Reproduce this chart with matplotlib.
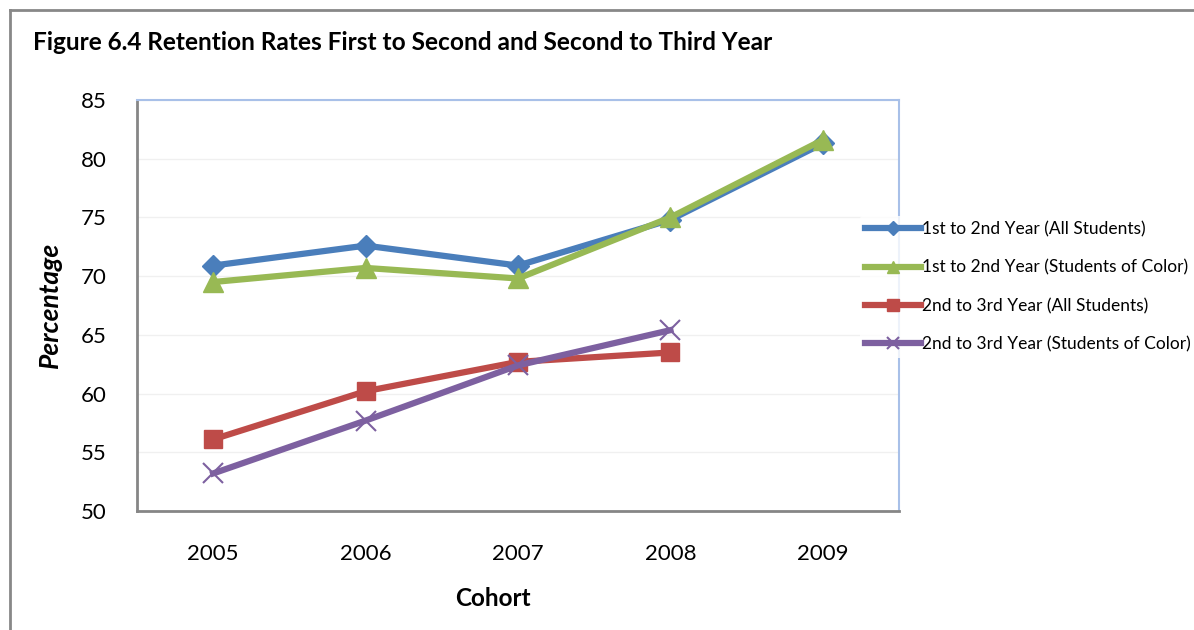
import matplotlib
matplotlib.use("Agg")
import matplotlib.pyplot as plt
from matplotlib.lines import Line2D

plt.rcParams['font.family'] = ['Lato', 'DejaVu Sans']

cohorts = ['2005', '2006', '2007', '2008', '2009']
first_all = [70.9, 72.6, 70.9, 74.8, 81.3]
first_color = [69.5, 70.7, 69.8, 75.0, 81.6]
second_all = [56.1, 60.2, 62.7, 63.5]
second_color = [53.2, 57.7, 62.4, 65.4]

labels = ['1st to 2nd Year (All Students)',
          '1st to 2nd Year (Students of Color)',
          '2nd to 3rd Year (All Students)',
          '2nd to 3rd Year (Students of Color)']
colors = ['#4A7EBB', '#98B954', '#BE4B48', '#7D60A0']

fig = plt.figure(figsize=(11.94, 6.30), dpi=100)
ax = fig.add_axes([137 / 1194, 1 - 511 / 630, (899 - 137) / 1194, (511 - 100) / 630])

x = list(range(len(cohorts)))
ax.plot(x, first_all, color=colors[0], lw=4.5, marker='D', ms=11, label=labels[0], zorder=3)
ax.plot(x, first_color, color=colors[1], lw=4.5, marker='^', ms=14, label=labels[1], zorder=4)
ax.plot(x[:4], second_all, color=colors[2], lw=4.5, marker='s', ms=13, label=labels[2], zorder=3)
ax.plot(x[:4], second_color, color=colors[3], lw=4.5, marker='x', ms=14, mew=1.5,
        label=labels[3], zorder=4)

ax.set_xlim(-0.5, 4.5)
ax.set_ylim(50, 85)
ax.set_yticks(range(50, 90, 5))
ax.set_xticks(x)
ax.set_xticklabels(cohorts)
ax.tick_params(length=0, labelsize=16, colors='black')
ax.tick_params(axis='y', pad=22)
ax.tick_params(axis='x', pad=24)
ax.grid(axis='y', color='#F0F0F0', lw=1)
ax.set_axisbelow(True)

for side in ['left', 'bottom']:
    ax.spines[side].set_color('#868686')
    ax.spines[side].set_linewidth(2)
for side in ['top', 'right']:
    ax.spines[side].set_color('#A8C0E8')
    ax.spines[side].set_linewidth(1.5)

fig.text(493 / 1194, 1 - 599 / 630, 'Cohort', fontsize=17.5, fontweight='bold',
         ha='center', va='center')
fig.text(50 / 1194, 1 - 305 / 630, 'Percentage', fontsize=19, fontweight='bold',
         fontstyle='italic', rotation=90, ha='center', va='center')

handles = [
    Line2D([], [], color=colors[0], lw=4.5, marker='D', ms=7),
    Line2D([], [], color=colors[1], lw=4.5, marker='^', ms=8),
    Line2D([], [], color=colors[2], lw=4.5, marker='s', ms=9),
    Line2D([], [], color=colors[3], lw=4.5, marker='x', ms=8, mew=1.5),
]
leg = fig.legend(handles, labels, loc='upper left', bbox_to_anchor=(860 / 1194, 1 - 216 / 630),
                 frameon=True, fontsize=12.5, handlelength=3.2, handletextpad=0.1,
                 labelspacing=1.28, borderpad=0.3, borderaxespad=0)
leg.get_frame().set_edgecolor('none')
leg.get_frame().set_facecolor('white')
leg.set_zorder(10)

fig.text(33 / 1194, 1 - 43 / 630, 'Figure 6.4 Retention Rates First to Second and Second to Third Year',
         fontsize=17.6, fontweight='bold', va='center', ha='left')

# outer frame
fig.add_artist(Line2D([10 / 1194, 10 / 1194], [0, 1 - 10 / 630], color='#888888', lw=2,
                      transform=fig.transFigure))
fig.add_artist(Line2D([10 / 1194, 1], [1 - 10 / 630, 1 - 10 / 630], color='#888888', lw=2,
                      transform=fig.transFigure))

fig.savefig('out.png', dpi=100)
